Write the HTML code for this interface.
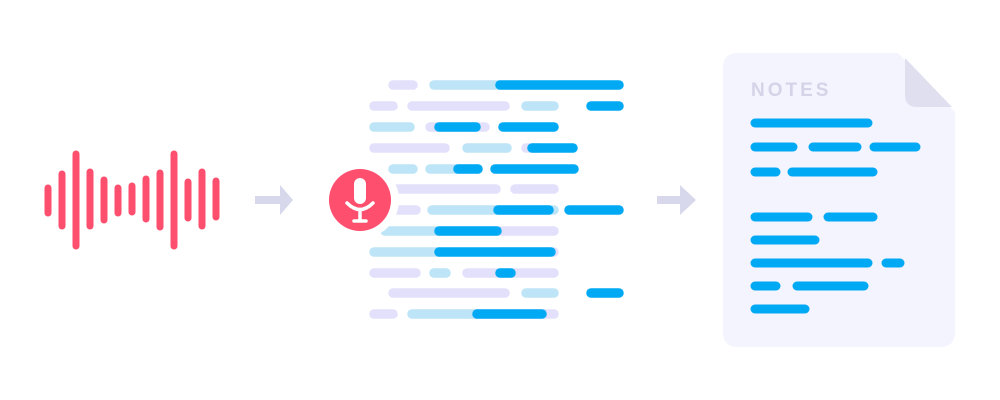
<!DOCTYPE html>
<html><head><style>
html,body{margin:0;padding:0;background:#fff;width:1000px;height:400px;overflow:hidden;font-family:"Liberation Sans",sans-serif}
</style></head><body>
<svg width="1000" height="400" viewBox="0 0 1000 400" xmlns="http://www.w3.org/2000/svg">
<g stroke="#ff4f6e" stroke-width="7" stroke-linecap="round">
<line x1="48" y1="188" x2="48" y2="213"/>
<line x1="62" y1="174" x2="62" y2="226"/>
<line x1="76" y1="154" x2="76" y2="246"/>
<line x1="90" y1="172" x2="90" y2="226"/>
<line x1="104" y1="180" x2="104" y2="220"/>
<line x1="118" y1="188" x2="118" y2="213"/>
<line x1="132" y1="186" x2="132" y2="212"/>
<line x1="146" y1="179" x2="146" y2="219"/>
<line x1="160" y1="173" x2="160" y2="227"/>
<line x1="174" y1="154" x2="174" y2="246"/>
<line x1="188" y1="182" x2="188" y2="218"/>
<line x1="202" y1="172" x2="202" y2="226"/>
<line x1="216" y1="181" x2="216" y2="217"/>
</g>
<g fill="#d8d8ec">
<path d="M255 196 H280 V185 L293 200 L280 215 V204 H255 Z"/>
<path d="M657 196 H680 V185 L696 200 L680 215 V204 H657 Z"/>
</g>
<g stroke-width="9.5" stroke-linecap="round">
<g stroke="#e2e0fb">
<line x1="393" y1="85" x2="413" y2="85"/>
<line x1="374" y1="106" x2="393" y2="106"/>
<line x1="412" y1="106" x2="505" y2="106"/>
<line x1="430" y1="127" x2="485" y2="127"/>
<line x1="374" y1="148" x2="445" y2="148"/>
<line x1="526" y1="148" x2="540" y2="148"/>
<line x1="385" y1="189" x2="496" y2="189"/>
<line x1="515" y1="189" x2="554" y2="189"/>
<line x1="385" y1="210" x2="416" y2="210"/>
<line x1="500" y1="231" x2="554" y2="231"/>
<line x1="500" y1="252" x2="554" y2="252"/>
<line x1="374" y1="273" x2="416" y2="273"/>
<line x1="467" y1="273" x2="554" y2="273"/>
<line x1="393" y1="293" x2="505" y2="293"/>
<line x1="374" y1="314" x2="393" y2="314"/>
<line x1="470" y1="314" x2="554" y2="314"/>
</g>
<g stroke="#bde4f7">
<line x1="434" y1="85" x2="500" y2="85"/>
<line x1="526" y1="106" x2="554" y2="106"/>
<line x1="374" y1="127" x2="410" y2="127"/>
<line x1="467" y1="148" x2="507" y2="148"/>
<line x1="393" y1="169" x2="413" y2="169"/>
<line x1="430" y1="169" x2="478" y2="169"/>
<line x1="432" y1="210" x2="554" y2="210"/>
<line x1="385" y1="231" x2="497" y2="231"/>
<line x1="374" y1="252" x2="440" y2="252"/>
<line x1="434" y1="273" x2="446" y2="273"/>
<line x1="526" y1="293" x2="554" y2="293"/>
<line x1="412" y1="314" x2="478" y2="314"/>
</g>
<g stroke="#00a9f4">
<line x1="500" y1="85" x2="619" y2="85"/>
<line x1="591" y1="106" x2="619" y2="106"/>
<line x1="439" y1="127" x2="476" y2="127"/>
<line x1="503" y1="127" x2="554" y2="127"/>
<line x1="532" y1="148" x2="573" y2="148"/>
<line x1="458" y1="169" x2="478" y2="169"/>
<line x1="495" y1="169" x2="574" y2="169"/>
<line x1="498" y1="210" x2="549" y2="210"/>
<line x1="569" y1="210" x2="619" y2="210"/>
<line x1="439" y1="231" x2="497" y2="231"/>
<line x1="439" y1="252" x2="551" y2="252"/>
<line x1="500" y1="273" x2="511" y2="273"/>
<line x1="591" y1="293" x2="619" y2="293"/>
<line x1="477" y1="314" x2="542" y2="314"/>
</g>
</g>
<circle cx="360" cy="200" r="39" fill="#fff"/>
<circle cx="360" cy="200" r="31" fill="#ff4f6e"/>
<g fill="none" stroke="#fff" stroke-linecap="round">
<rect x="354" y="178" width="12" height="26" rx="6" fill="#fff" stroke="none"/>
<path d="M347 203 Q360 216 373 203" stroke-width="3.5"/>
<line x1="360" y1="210" x2="360" y2="220" stroke-width="3.5"/>
<line x1="354" y1="221" x2="366" y2="221" stroke-width="3.5"/>
</g>
<path d="M738 53 H898 L955 112 V332 Q955 347 940 347 H738 Q723 347 723 332 V68 Q723 53 738 53 Z" fill="#f3f4fd"/>
<path d="M905 58 L952 107 H917 Q905 107 905 95 Z" fill="#e0dff0"/>
<text x="751" y="96" font-family="Liberation Sans, sans-serif" font-weight="bold" font-size="19" letter-spacing="3" fill="#d5d3e8">NOTES</text>
<g stroke="#00a9f4" stroke-width="9" stroke-linecap="round">
<line x1="755" y1="123" x2="868" y2="123"/>
<line x1="755" y1="147" x2="793" y2="147"/>
<line x1="813" y1="147" x2="857" y2="147"/>
<line x1="874" y1="147" x2="916" y2="147"/>
<line x1="755" y1="172" x2="776" y2="172"/>
<line x1="792" y1="172" x2="873" y2="172"/>
<line x1="755" y1="217" x2="808" y2="217"/>
<line x1="828" y1="217" x2="873" y2="217"/>
<line x1="755" y1="240" x2="815" y2="240"/>
<line x1="755" y1="263" x2="868" y2="263"/>
<line x1="886" y1="263" x2="900" y2="263"/>
<line x1="755" y1="286" x2="776" y2="286"/>
<line x1="797" y1="286" x2="864" y2="286"/>
<line x1="755" y1="309" x2="805" y2="309"/>
</g>
</svg>
</body></html>
